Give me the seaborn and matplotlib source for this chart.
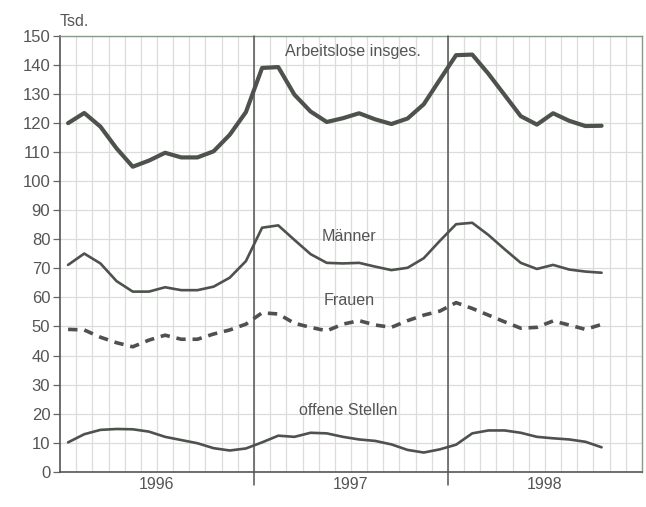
import numpy as np
import pandas as pd
import matplotlib
matplotlib.use("Agg")
import matplotlib.pyplot as plt
import seaborn as sns

# Monthly values, Jan 1996 - Oct 1998 (Tsd.)
months = list(range(34))
arbeitslose = [120, 123.5, 118.8, 111.3, 105, 107.1, 109.8, 108.2, 108.2, 110.3, 116, 123.8,
               139, 139.3, 129.8, 124, 120.4, 121.7, 123.4, 121.3, 119.7, 121.6, 126.5, 135,
               143.4, 143.6, 137, 129.7, 122.4, 119.5, 123.4, 120.8, 119, 119.1]
maenner = [71.2, 75.1, 71.7, 65.6, 62, 62, 63.5, 62.5, 62.5, 63.7, 66.8, 72.5,
           84, 84.8, 79.8, 74.9, 71.9, 71.7, 71.9, 70.6, 69.4, 70.2, 73.5, 79.5,
           85.2, 85.7, 81.5, 76.6, 71.9, 69.8, 71.2, 69.6, 68.9, 68.5]
frauen = [49, 48.8, 46.3, 44.4, 43, 45.3, 47, 45.6, 45.6, 47.4, 48.8, 50.8,
          54.7, 54.3, 51.1, 49.7, 48.5, 50.8, 52, 50.5, 49.7, 52, 53.9, 55.3,
          58.2, 56.2, 53.9, 51.6, 49.4, 49.7, 51.9, 50.5, 49, 50.7]
offene = [10.1, 12.9, 14.4, 14.7, 14.6, 13.8, 12, 10.9, 9.8, 8.1, 7.3, 8,
          10.1, 12.4, 12, 13.4, 13.2, 12, 11.1, 10.6, 9.4, 7.5, 6.6, 7.7,
          9.3, 13.2, 14.2, 14.2, 13.4, 12, 11.5, 11.1, 10.3, 8.4]
years = ["1996", "1997", "1998"]
y_ticks = list(range(0, 151, 10))

df = pd.DataFrame({"x": np.array(months) + 0.5,
                   "arb": arbeitslose, "m": maenner, "f": frauen, "o": offene})

sns.set_theme(style="white")
plt.rcParams["font.family"] = ["Liberation Sans", "DejaVu Sans"]

fig = plt.figure(figsize=(6.46, 5.07), dpi=100)
ax = fig.add_axes([60 / 646, 1 - 471.7 / 507, 582 / 646, (471.7 - 36) / 507])

line_c = "#4d524c"
sns.lineplot(data=df, x="x", y="arb", ax=ax, color=line_c, lw=3.0, zorder=5)
sns.lineplot(data=df, x="x", y="m", ax=ax, color=line_c, lw=1.9, zorder=5)
sns.lineplot(data=df, x="x", y="f", ax=ax, color=line_c, lw=2.6, zorder=5,
             dashes=False)
ax.lines[-1].set_dashes((2.6, 1.9))
sns.lineplot(data=df, x="x", y="o", ax=ax, color=line_c, lw=1.9, zorder=5)

ax.set_xlim(0, 36)
ax.set_ylim(0, 150)
ax.set_yticks(y_ticks)
ax.set_yticklabels([str(v) for v in y_ticks])
ax.set_xticks([6, 18, 30])
ax.set_xticklabels(years)
ax.grid(True, which="major", axis="y", color="#dcdcdc", lw=0.9, zorder=0)
ax.grid(False, axis="x")
# monthly vertical grid lines, kept inside the plot area
for xm in range(1, 36):
    ax.axvline(xm, color="#dcdcdc", lw=0.9, zorder=0)
ax.set_xlabel("")
ax.set_ylabel("")

ax.tick_params(axis="y", which="major", direction="out", length=5, width=0.9,
               color="#666666", labelsize=12, labelcolor="#555555", pad=2, left=True)
ax.tick_params(axis="x", which="both", length=0, bottom=False, labelbottom=True,
               labelsize=11.5, labelcolor="#555555", pad=4)

for s in ["left", "bottom"]:
    ax.spines[s].set_color("#555555")
    ax.spines[s].set_linewidth(1.2)
for s in ["top", "right"]:
    ax.spines[s].set_color("#8a9a88")
    ax.spines[s].set_linewidth(1.0)

for xv in [12, 24]:
    ax.axvline(xv, ymin=-0.03, ymax=1, color="#555555", lw=1.1, clip_on=False, zorder=4)

txt = dict(color="#555555", fontsize=11.6, ha="center", va="center")
ax.text(18.1, 144.6, "Arbeitslose insges.", **txt)
ax.text(17.9, 80.9, "Männer", **txt)
ax.text(17.9, 58.9, "Frauen", **txt)
ax.text(17.8, 21.2, "offene Stellen", **txt)
fig.text(60 / 646, 1 - 22 / 507, "Tsd.", color="#555555", fontsize=11.5, ha="left", va="center")

fig.savefig("out.png", dpi=100)
